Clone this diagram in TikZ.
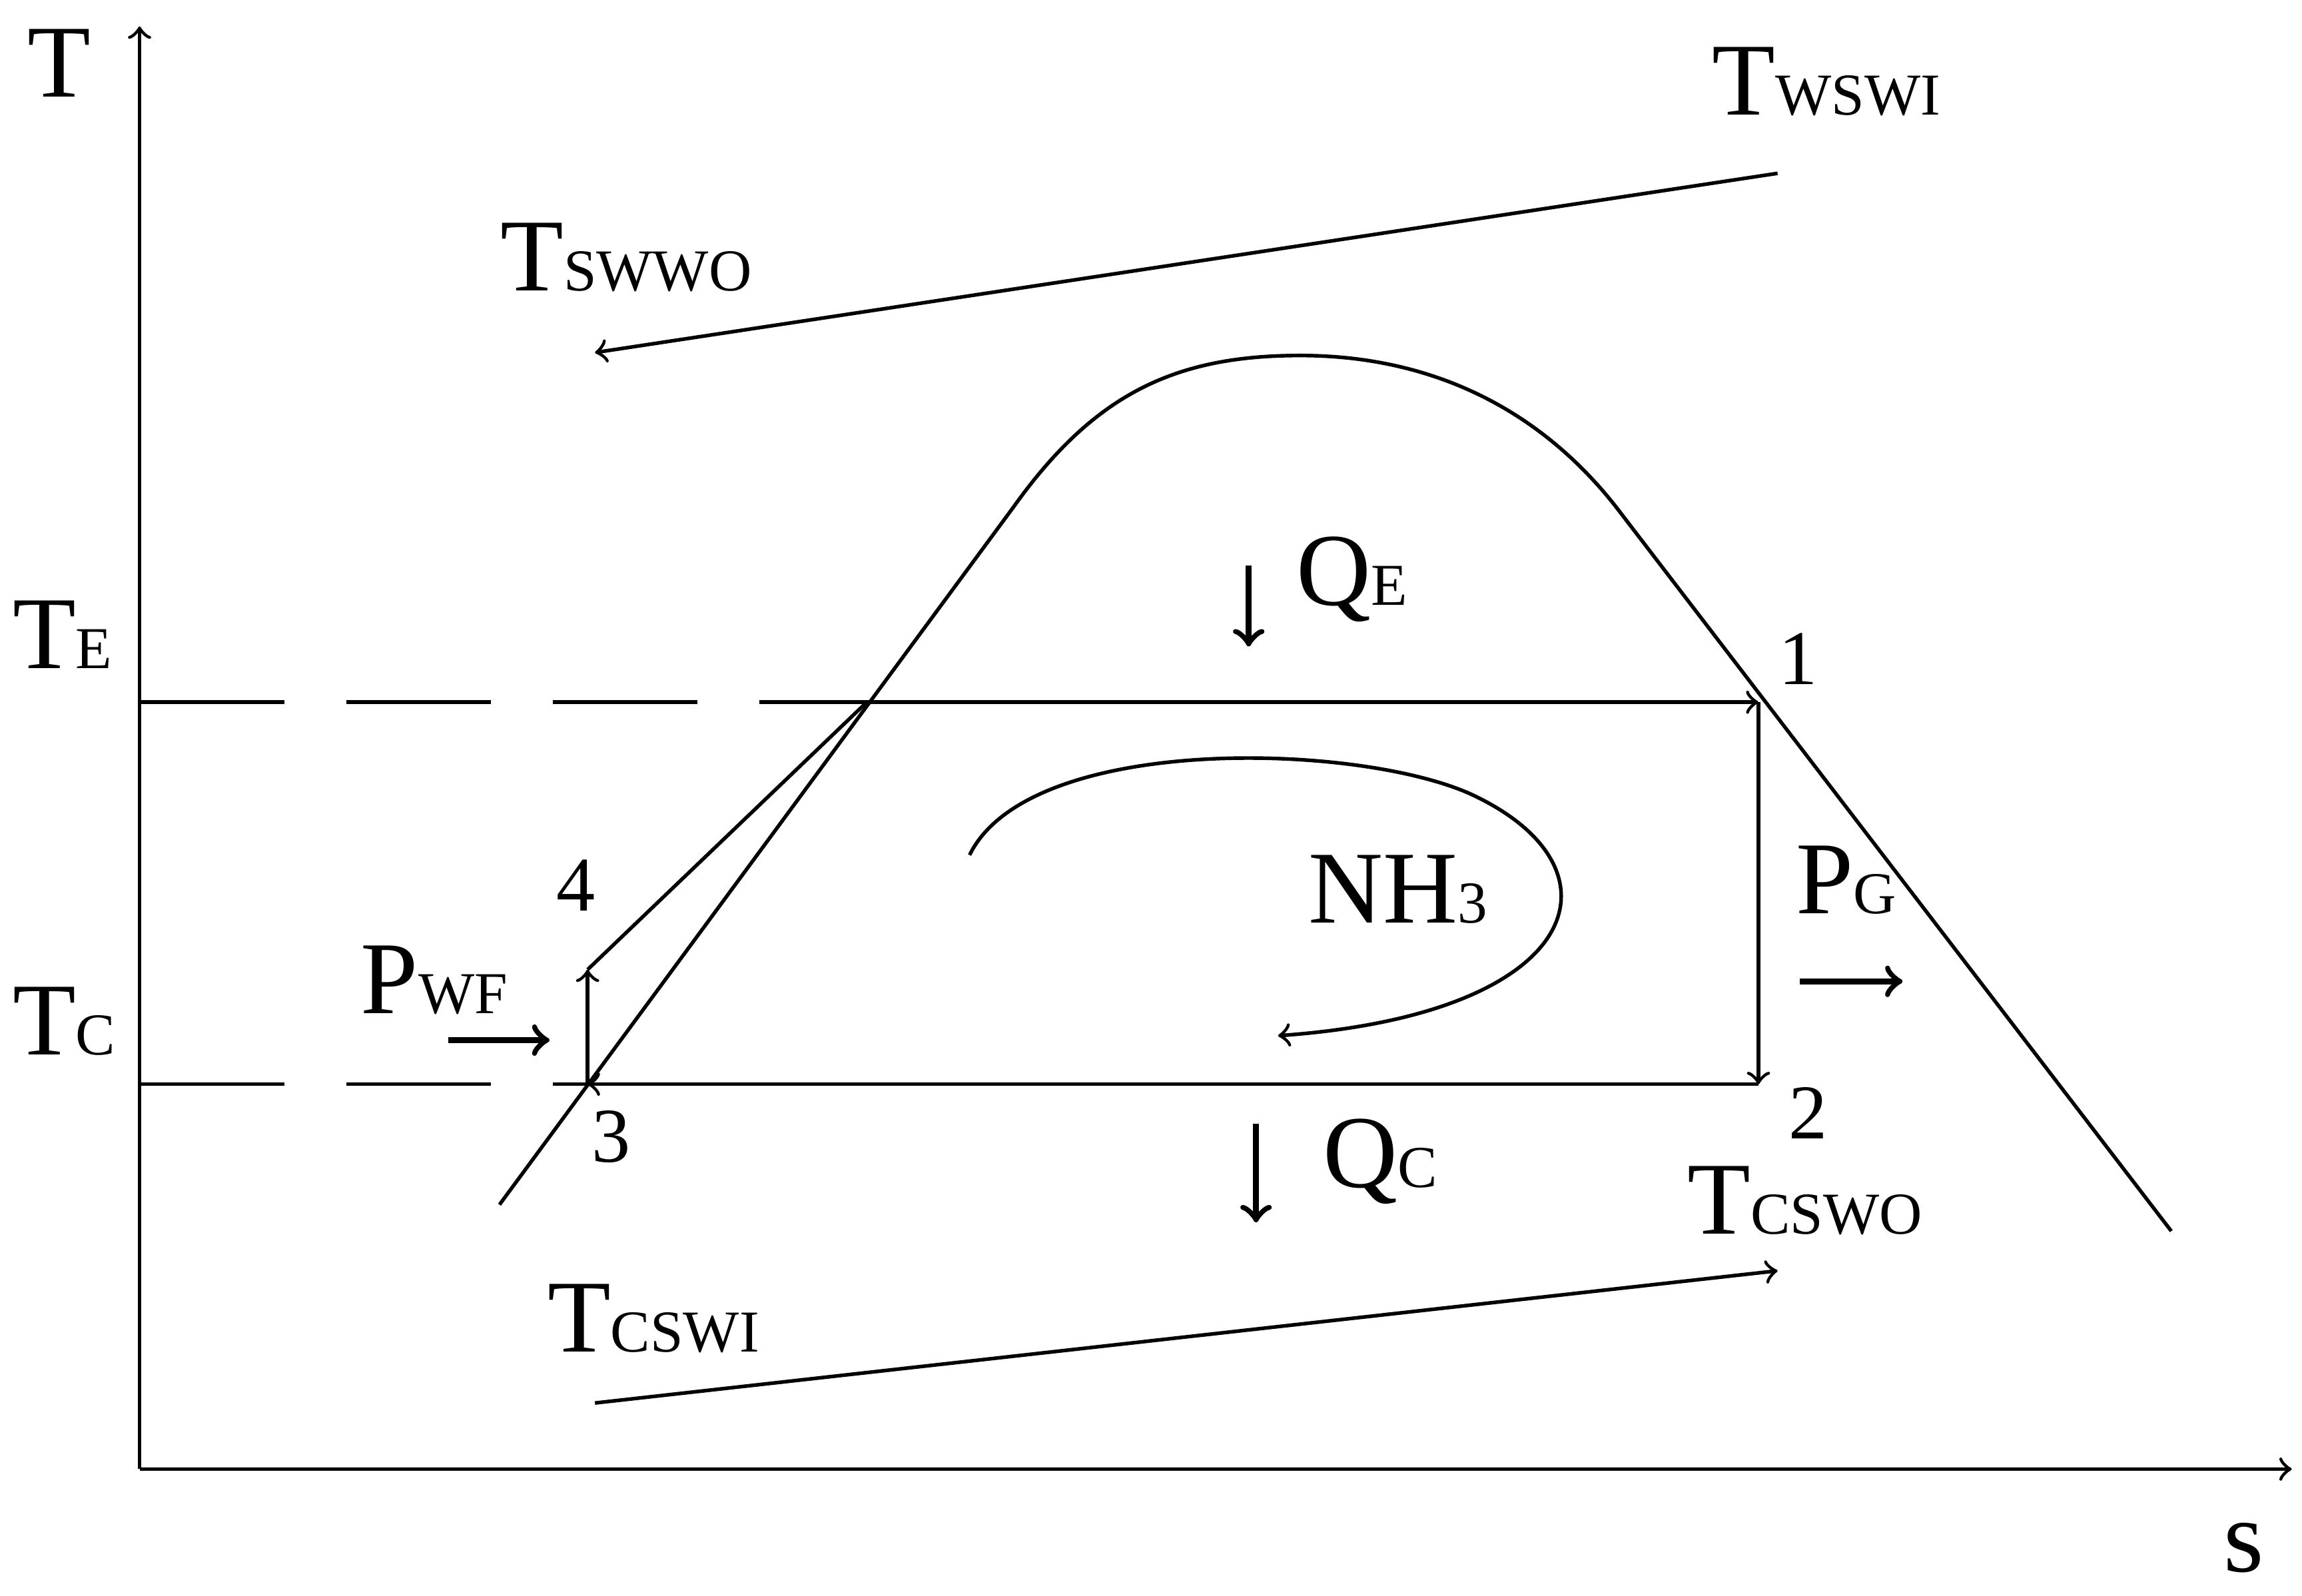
\documentclass[tikz,border=0pt]{standalone}
\usepackage{fontspec}
\setmainfont{Liberation Serif}
\newcommand\lab[2]{{\fontsize{20}{20}\selectfont #1}{\fontsize{11.5}{11.5}\selectfont #2}}
\begin{document}
\begin{tikzpicture}[x=0.01cm,y=-0.01cm,
  ln/.style={line width=0.7pt},
  ar/.style={ln,-to},
  big/.style={ln,-to,line width=1.2pt},
  tx/.style={inner sep=0pt,anchor=base west},
  num/.style={inner sep=0pt,anchor=base west,font=\fontsize{15}{15}\selectfont}]
\useasboundingbox (0,0) rectangle (1567,1086);
\coordinate (O) at (95,1000);
\coordinate (ytop) at (95,18);
\coordinate (xend) at (1560,1000);
\draw[ar] (O) -- (ytop);
\draw[ar] (O) -- (xend);
\node[tx] at (18,66) {\fontsize{20}{20}\selectfont T};
\node[tx] at (1513,1070) {\fontsize{20}{20}\selectfont s};
% levels
\coordinate (eL) at (95,478);
\coordinate (eM) at (590,478);
\coordinate (p1) at (1197,478);
\coordinate (cL) at (95,738);
\coordinate (p3) at (400,738);
\coordinate (p2) at (1197,738);
\coordinate (p4) at (400,660);
\draw[ln,dash pattern=on 28pt off 12pt] (eL) -- (eM);
\draw[ar] (eM) -- (p1);
\draw[ln,dash pattern=on 28pt off 12pt] (cL) -- (p3);
\draw[ar] (p2) -- (p3);
\draw[ar] (p1) -- (p2);
\draw[ar] (p3) -- (p4);
\draw[ln] (p4) -- (eM);
% dome
\coordinate (dL) at (340,820);
\coordinate (dA) at (690,345);
\coordinate (dT) at (885,242);
\coordinate (dB) at (1100,345);
\coordinate (dR) at (1478,838);
\draw[ln] (dL) -- (dA) .. controls (745,268) and (800,242) .. (dT)
  .. controls (970,242) and (1045,275) .. (dB) -- (dR);
\node[tx] at (8,455) {\lab{T}{E}};
\node[tx] at (8,718) {\lab{T}{C}};
\node[num] at (1210,466) {1};
\node[num] at (1217,775) {2};
\node[num] at (402,791) {3};
\node[num] at (378,620) {4};
% warm seawater
\coordinate (wi) at (1210,118);
\coordinate (wo) at (405,240);
\draw[ar] (wi) -- (wo);
\node[tx] at (1165,78) {\lab{T}{WSWI}};
\node[tx] at (340,198) {\lab{T}{SWWO}};
% cold seawater
\coordinate (ci) at (405,955);
\coordinate (co) at (1210,865);
\draw[ar] (ci) -- (co);
\node[tx] at (372,920) {\lab{T}{CSWI}};
\node[tx] at (1148,840) {\lab{T}{CSWO}};
% heat
\coordinate (qe1) at (850,385); \coordinate (qe2) at (850,440);
\draw[big] (qe1) -- (qe2);
\node[tx] at (882,412) {\lab{Q}{E}};
\coordinate (qc1) at (855,765); \coordinate (qc2) at (855,832);
\draw[big] (qc1) -- (qc2);
\node[tx] at (900,808) {\lab{Q}{C}};
% NH3
\node[tx] at (890,628) {\lab{NH}{3}};
\coordinate (s0) at (660,582);
\coordinate (s1) at (870,705);
\draw[ar] (s0) .. controls (700,500) and (920,505) .. (1000,540)
  .. controls (1110,590) and (1080,690) .. (s1);
% power
\node[tx] at (1222,622) {\lab{P}{G}};
\coordinate (pg1) at (1225,668); \coordinate (pg2) at (1295,668);
\draw[big] (pg1) -- (pg2);
\node[tx] at (245,690) {\lab{P}{WF}};
\coordinate (pw1) at (305,708); \coordinate (pw2) at (374,708);
\draw[big] (pw1) -- (pw2);
\end{tikzpicture}
\end{document}
